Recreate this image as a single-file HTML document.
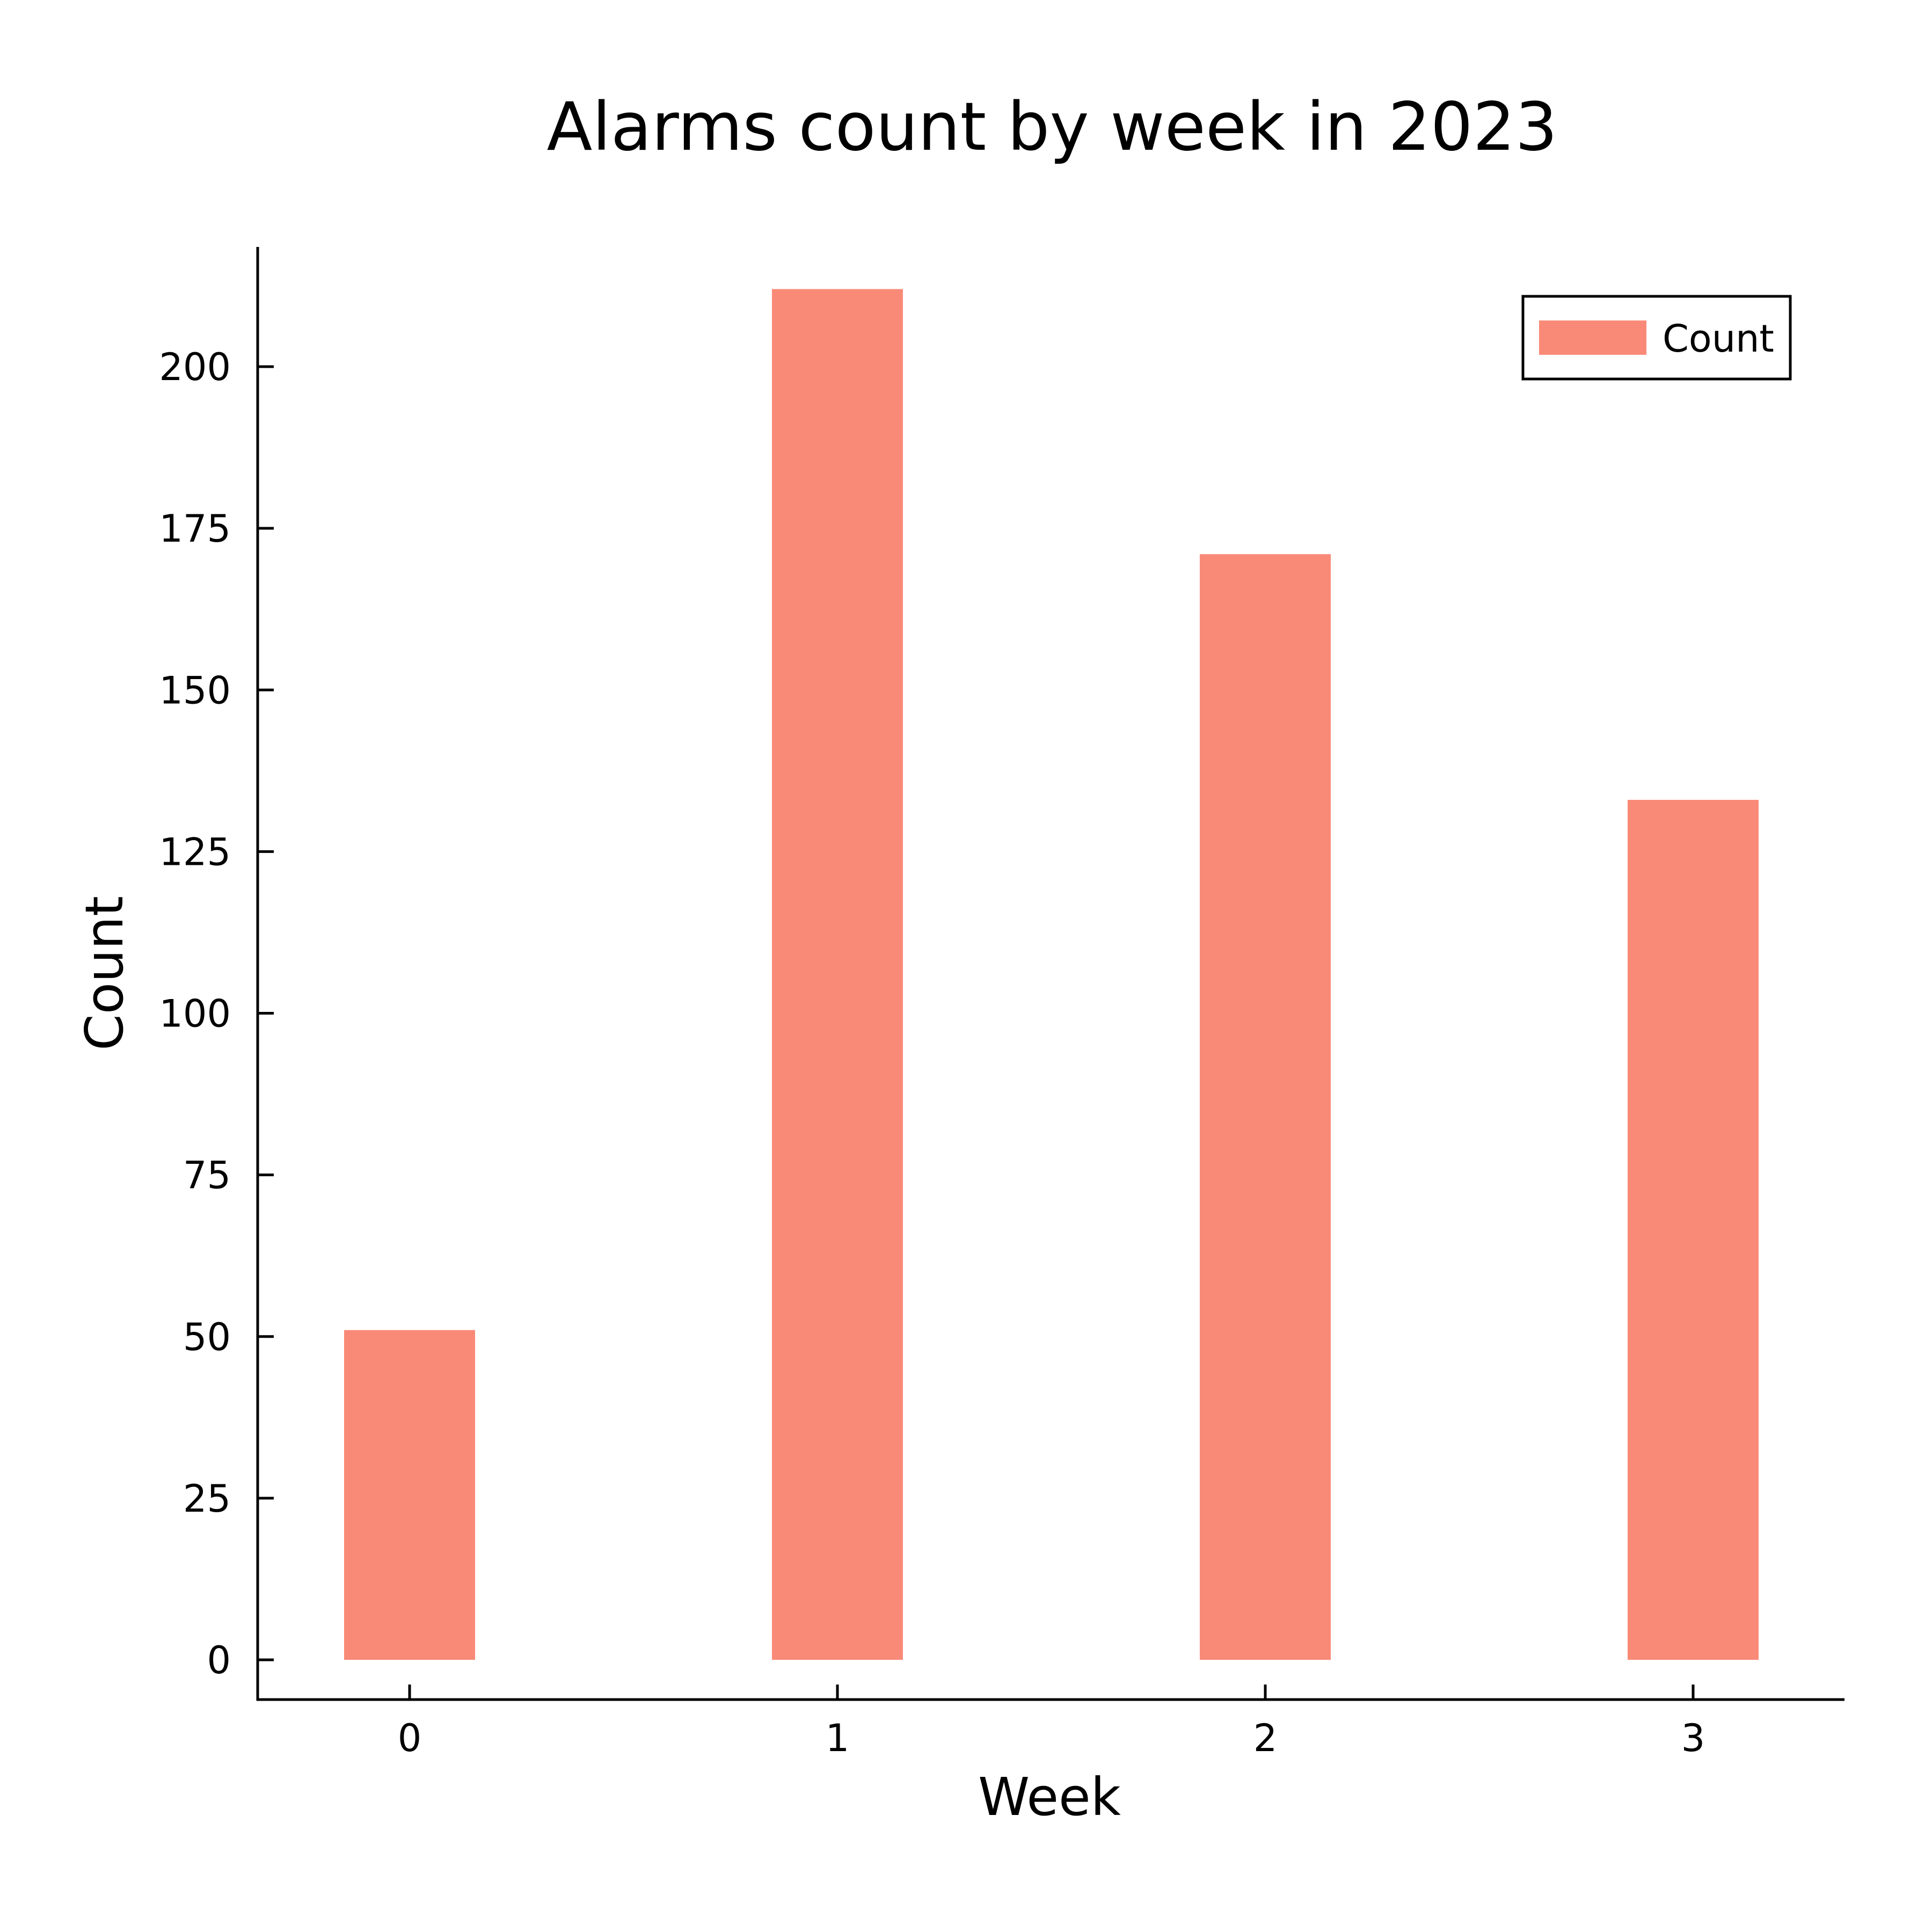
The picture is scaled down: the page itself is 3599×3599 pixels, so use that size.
<!DOCTYPE html>
<html><head><meta charset="utf-8"><style>html,body{margin:0;padding:0;background:#fff}svg{display:block}</style></head>
<body>
<svg id="chart" width="3599" height="3599" viewBox="0 0 3599 3599" xmlns="http://www.w3.org/2000/svg" font-family="'DejaVu Sans','Liberation Sans',sans-serif">
<rect width="3599" height="3599" fill="#fff"/>
<text x="1960" y="279" font-size="124" text-anchor="middle">Alarms count by week in 2023</text>
<text x="1955" y="3381" font-size="97" text-anchor="middle">Week</text>
<text x="0" y="0" font-size="97" text-anchor="middle" transform="translate(228,1813) rotate(-90)">Count</text>
<g id="bars"></g>
<g id="yticks"></g>
<g id="xticks"></g>
<line x1="480" y1="460" x2="480" y2="3168" stroke="#000" stroke-width="5"/>
<line x1="478" y1="3166" x2="3436" y2="3166" stroke="#000" stroke-width="5"/>
<g>
<rect x="2837" y="552" width="498" height="154" fill="#fff" stroke="#000" stroke-width="5"/>
<rect x="2867" y="597" width="200" height="64" fill="#fa8a78"/>
<text x="3097" y="655" font-size="70">Count</text>
</g>
</svg>
<script>
const weeks = [0, 1, 2, 3];
const counts = [51, 212, 171, 133];
const yTicks = [0, 25, 50, 75, 100, 125, 150, 175, 200];

const NS = 'http://www.w3.org/2000/svg';
const X0 = 763, XSTEP = 797, BARW = 244;
const Y0 = 3092, YPER = (3092 - 683) / 200;
function xs(v) { return X0 + v * XSTEP; }
function ys(v) { return Y0 - v * YPER; }

const bars = document.getElementById('bars');
weeks.forEach((w, i) => {
  const r = document.createElementNS(NS, 'rect');
  r.setAttribute('x', xs(w) - BARW / 2);
  r.setAttribute('y', ys(counts[i]));
  r.setAttribute('width', BARW);
  r.setAttribute('height', ys(0) - ys(counts[i]));
  r.setAttribute('fill', '#fa8a78');
  
  
  bars.appendChild(r);
});

const yg = document.getElementById('yticks');
yTicks.forEach(t => {
  const l = document.createElementNS(NS, 'line');
  l.setAttribute('x1', 480); l.setAttribute('x2', 510);
  l.setAttribute('y1', ys(t)); l.setAttribute('y2', ys(t));
  l.setAttribute('stroke', '#000'); l.setAttribute('stroke-width', 5);
  
  
  yg.appendChild(l);
  const tx = document.createElementNS(NS, 'text');
  tx.setAttribute('x', 430); tx.setAttribute('y', ys(t) + 25);
  tx.setAttribute('font-size', 70); tx.setAttribute('text-anchor', 'end');
  tx.textContent = t;
  
  
  yg.appendChild(tx);
});

const xg = document.getElementById('xticks');
weeks.forEach(w => {
  const l = document.createElementNS(NS, 'line');
  l.setAttribute('x1', xs(w)); l.setAttribute('x2', xs(w));
  l.setAttribute('y1', 3166); l.setAttribute('y2', 3138);
  l.setAttribute('stroke', '#000'); l.setAttribute('stroke-width', 5);
  
  
  xg.appendChild(l);
  const tx = document.createElementNS(NS, 'text');
  tx.setAttribute('x', xs(w)); tx.setAttribute('y', 3262);
  tx.setAttribute('font-size', 70); tx.setAttribute('text-anchor', 'middle');
  tx.textContent = w;
  
  
  xg.appendChild(tx);
});
</script>
</body></html>
